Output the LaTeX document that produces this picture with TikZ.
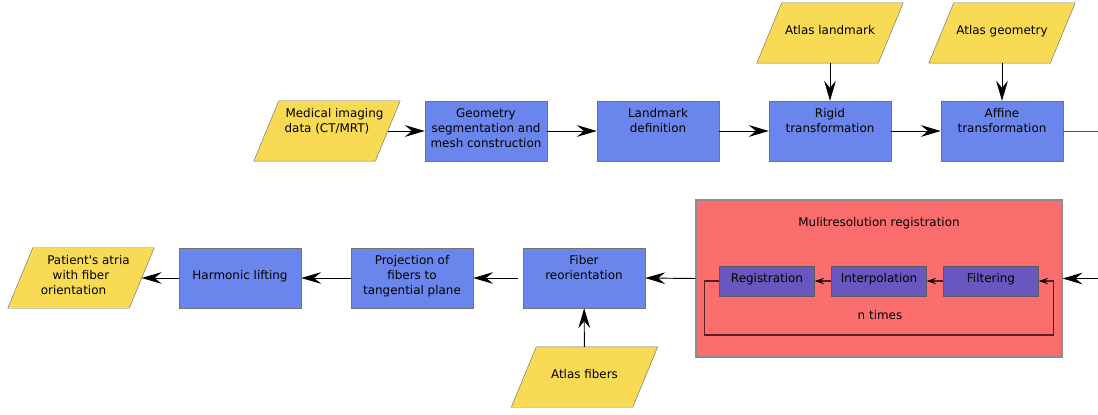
\documentclass[tikz,border=0pt]{standalone}
\usepackage{fontspec}
\setmainfont{DejaVu Sans}[Ligatures=TeXOff]
\usepackage{tikz}
\usetikzlibrary{arrows.meta, positioning, backgrounds}

\definecolor{procblue}{RGB}{106,134,236}
\definecolor{datayellow}{RGB}{249,218,85}
\definecolor{groupred}{RGB}{252,110,110}
\definecolor{subpurple}{RGB}{103,87,190}
\definecolor{loopred}{RGB}{90,30,35}

\begin{document}
\begin{tikzpicture}[font=\fontsize{10.2}{12.8}\selectfont,
      proc/.style={rectangle, draw=black!55, fill=procblue, minimum width=3.66cm, minimum height=1.8cm, align=center, text depth=5.5pt},
      data/.style={rectangle, minimum width=3.63cm, minimum height=1.8cm, align=center, text depth=5.5pt},
      datashape/.style={draw=black!55, fill=datayellow},
      subproc/.style={rectangle, draw=black!65, fill=subpurple, minimum width=2.85cm, minimum height=0.9cm, text depth=5.5pt},
      group/.style={rectangle, draw=black!45, line width=1pt, fill=groupred, minimum width=10.98cm, minimum height=4.71cm},
      upper/.style={text depth=18.3pt},
      flow/.style={-{Stealth[length=17pt, width=10pt, inset=6pt]}, line width=0.8pt},
      subflow/.style={-{Stealth[length=8pt, width=5.5pt, inset=3pt, black]}, line width=0.9pt, draw=loopred}]

      \useasboundingbox (0,0) rectangle (32.94,-12.45);

      % Top row
      \node[data, upper] (imaging) at (9.81,-3.93) {\hspace*{0.45cm}Medical imaging\\data (CT/MRT)};
      \node[proc] (segment) at (14.58,-3.93) {Geometry\\segmentation and\\mesh construction};
      \node[proc, upper] (landmarks) at (19.74,-3.93) {Landmark\\definition};
      \node[proc, upper] (rigid) at (24.9,-3.93) {Rigid\\transformation};
      \node[proc, upper] (affine) at (30.06,-3.93) {Affine\\transformation};
      \node[data] (atlaslmk) at (24.9,-0.99) {Atlas landmark};
      \node[data] (atlasgeo) at (30.06,-0.99) {Atlas geometry};
      \coordinate (out) at (32.94,-3.93);

      % Bottom row
      \node[data] (result) at (2.43,-8.34) {\hspace*{0.45cm}Patient's atria\\with fiber\\orientation\hspace*{0.45cm}};
      \node[proc] (lifting) at (7.2,-8.34) {Harmonic lifting};
      \node[proc] (project) at (12.36,-8.34) {Projection of\\fibers to\\tangential plane};
      \node[proc, upper] (reorient) at (17.52,-8.34) {Fiber\\reorientation};
      \node[data] (atlasfib) at (17.535,-11.31) {Atlas fibers};
      \coordinate (in) at (32.94,-8.355);

      % Parallelograms behind the data nodes
      \begin{scope}[on background layer]
        \foreach \n in {imaging, atlaslmk, atlasgeo, result, atlasfib}
          \draw[datashape] ([xshift=-0.375cm]\n.south west) -- ([xshift=-0.375cm]\n.south east)
            -- ([xshift=0.375cm]\n.north east) -- ([xshift=0.375cm]\n.north west) -- cycle;
      \end{scope}

      % Multiresolution block
      \node[group] (multires) at (26.37,-8.355) {};
      \node (multireslabel) at (26.37,-6.69) {Mulitresolution registration};
      \node[subproc] (registr) at (23.01,-8.43) {Registration};
      \node[subproc] (interp) at (26.37,-8.43) {Interpolation};
      \node[subproc] (filter) at (29.73,-8.43) {Filtering};
      \node (ntimes) at (26.4,-9.45) {n times};

      % Arrows
      \draw[flow] (imaging.east) -- (segment.west);
      \draw[flow] (segment.east) -- (landmarks.west);
      \draw[flow] (landmarks.east) -- (rigid.west);
      \draw[flow] (rigid.east) -- (affine.west);
      \draw[flow] (atlaslmk) -- (rigid);
      \draw[flow] (atlasgeo) -- (affine);
      \draw[line width=0.8pt, black!65] (affine.east) -- (out);

      \draw[flow] (in) -- (multires.east);
      \draw[flow] (multires.west) -- (reorient.east);
      \draw[flow] (atlasfib) -- (reorient);
      \draw[flow, shorten <=0.15cm] (reorient.west) -- (project.east);
      \draw[flow] (project.west) -- (lifting.east);
      \draw[flow] (lifting.west) -- (result.east);

      % Loop inside the block
      \draw[subflow] (filter.west) -- (interp.east);
      \draw[subflow] (interp.west) -- (registr.east);
      \draw[subflow] (registr.west) -- ++(-0.45,0) -- ++(0,-1.62) -| ([xshift=0.45cm]filter.east) -- (filter.east);
    \end{tikzpicture}
\end{document}
